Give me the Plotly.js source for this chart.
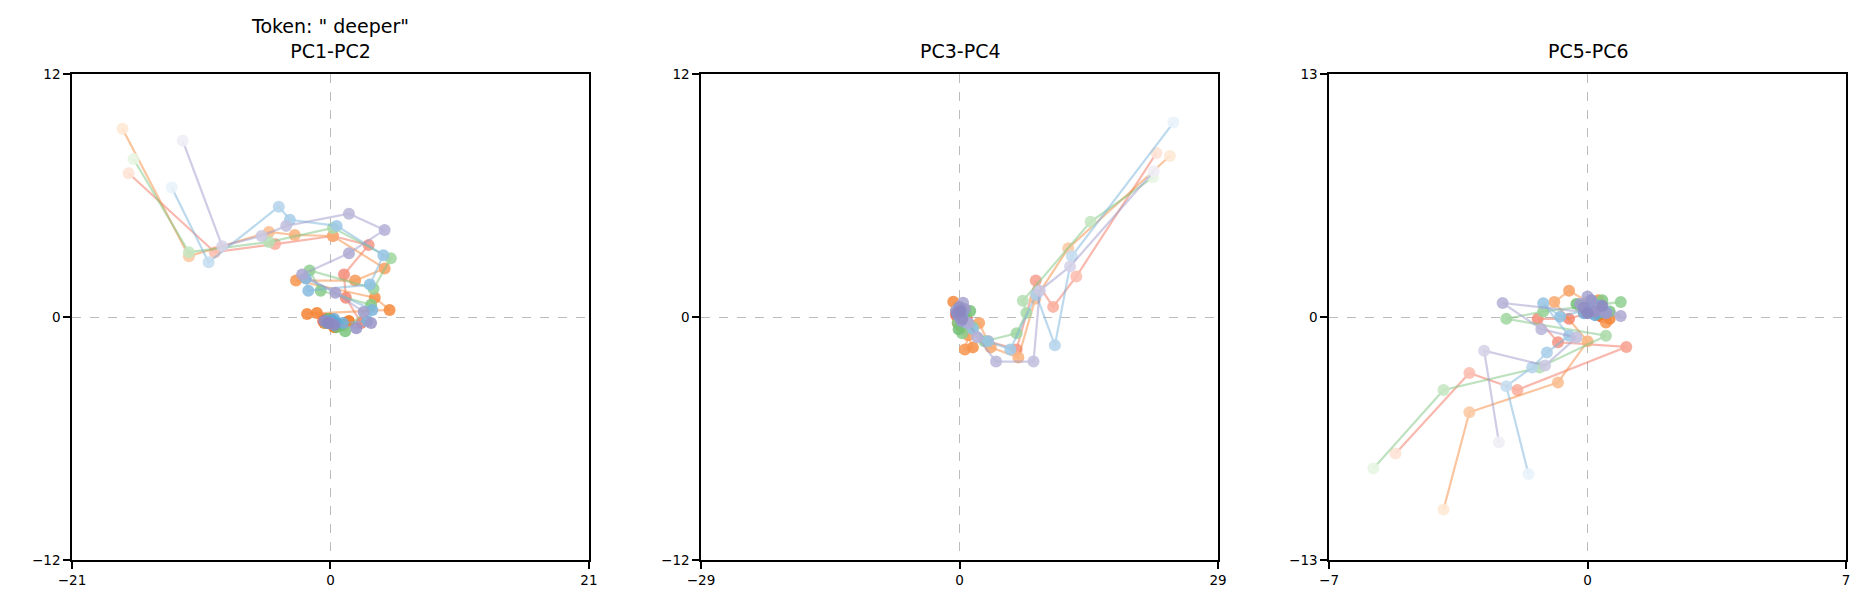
<!DOCTYPE html>
<html>
<head>
<meta charset="utf-8">
<script src="https://cdn.plot.ly/plotly-3.0.1.min.js"></script>
<style>
  body { margin: 0; background: #fff; }
  #chart { width: 1868px; height: 612px; }
</style>
</head>
<body>
<div id="chart"></div>
<script>
// trajectories of the token through the layers, one point per layer
var seriesNames = ['Reds', 'Oranges', 'Greens', 'Blues', 'Purples'];

var redPC1 = [-16.4, -9.4, -4.5, 0.2, 3.1, 1.1, 1.25, 2.5, 1.0, -0.6, 0.4, -0.2, 0.8, 0.1, -0.4, 0.2];
var redPC2 = [7.1, 3.2, 3.6, 4.0, 3.55, 2.1, 0.95, -0.3, -0.4, -0.2, -0.5, -0.3, -0.4, -0.2, -0.1, -0.3];
var redPC3 = [22.1, 13.1, 10.5, 8.55, 6.4, 3.2, 1.2, 0.5, -0.2, 0.3, 0.8, 0.0, -0.4, 0.2, 0.5, 0.1];
var redPC4 = [8.1, 2.0, 0.5, 1.8, -1.6, -1.2, -0.4, 0.2, 0.4, -0.5, -0.1, 0.3, 0.1, -0.2, 0.0, 0.2];
var redPC5 = [-5.2, -3.2, -1.9, 1.05, -0.8, -1.35, -0.5, 0.3, 0.0, 0.5, 0.2, -0.1, 0.4, 0.1, 0.3, 0.0];
var redPC6 = [-7.3, -3.0, -3.9, -1.6, -1.35, -0.1, -0.1, 0.4, 0.8, 0.1, 0.6, 0.3, 0.0, 0.5, 0.2, 0.4];

var orangePC1 = [-16.9, -11.5, -5.0, -2.9, 0.2, 4.4, 2.0, -2.8, 3.6, 4.8, -1.9, -1.1, -0.5, 0.3, 1.5, 0.0];
var orangePC2 = [9.3, 3.0, 4.2, 4.05, 4.0, 2.4, 1.8, 1.8, 0.95, 0.35, 0.15, 0.2, -0.3, -0.5, -0.2, -0.1];
var orangePC3 = [23.6, 12.2, 8.5, 6.6, 3.5, 2.2, 1.0, 0.6, 1.5, -0.7, -0.4, 0.2, 0.5, -0.2, 0.3, 0.0];
var orangePC4 = [7.95, 3.4, 0.9, -2.0, -1.5, -0.3, -0.9, -1.6, -1.5, 0.75, 0.3, -0.5, 0.1, -0.3, 0.4, 0.0];
var orangePC5 = [-3.9, -3.2, -0.8, 0.0, -0.9, -0.5, 0.2, 0.5, 0.3, -0.1, 0.6, 0.2, 0.4, 0.0, 0.3, 0.1];
var orangePC6 = [-10.3, -5.1, -3.5, -1.3, 0.8, 1.4, 0.6, -0.3, 0.9, 0.4, -0.1, 0.7, 0.2, 0.5, 0.1, 0.3];

var greenPC1 = [-16.0, -11.5, -5.0, 0.2, 4.9, 3.5, -1.7, -0.8, 3.3, 1.2, -0.3, 0.5, -0.2, 0.8, 0.2, 0.0];
var greenPC2 = [7.8, 3.2, 3.7, 4.4, 2.9, 1.4, 2.3, 1.3, 0.6, -0.7, -0.3, -0.5, -0.1, -0.4, -0.2, -0.3];
var greenPC3 = [21.7, 14.7, 7.1, 7.5, 6.4, 2.8, 1.5, 0.3, -0.2, 0.6, 1.2, -0.1, 0.4, 0.2, -0.3, 0.1];
var greenPC4 = [6.9, 4.7, 0.8, 0.2, -0.8, -1.2, -0.5, -0.8, -0.3, 0.2, 0.3, -0.6, 0.1, -0.2, 0.2, 0.0];
var greenPC5 = [-5.8, -3.9, -1.3, 0.5, -2.2, -1.2, 0.9, -0.2, 0.4, 0.6, 0.1, -0.3, 0.3, 0.2, 0.0, 0.1];
var greenPC6 = [-8.1, -3.9, -2.7, -1.0, -0.1, 0.3, 0.8, 0.6, 0.9, 0.3, 0.5, 0.7, 0.2, 0.4, 0.6, 0.3];

var bluePC1 = [-12.9, -9.9, -4.2, -3.3, 0.5, 4.3, 3.2, -1.8, -2.0, 3.4, 3.0, 1.0, 0.3, -0.3, 0.5, 0.1];
var bluePC2 = [6.4, 2.7, 5.45, 4.8, 4.5, 3.05, 1.6, 1.3, 1.9, 0.35, -0.2, -0.3, -0.1, -0.2, -0.3, -0.2];
var bluePC3 = [24.0, 12.6, 10.7, 8.6, 5.7, 3.2, 1.5, 0.8, 0.3, -0.2, 0.5, 0.1, -0.3, 0.2, 0.0, 0.3];
var bluePC4 = [9.6, 3.0, -1.4, 1.1, -1.6, -1.2, -0.6, -0.3, 0.2, 0.4, -0.2, 0.1, 0.3, -0.1, 0.0, 0.2];
var bluePC5 = [-1.6, -2.2, -1.5, -1.1, -0.5, -1.2, -0.74, 0.2, 0.5, 0.1, -0.1, 0.3, 0.0, 0.2, 0.4, 0.1];
var bluePC6 = [-8.4, -3.7, -2.7, -1.9, -1.0, 0.73, 0.02, 0.5, 0.3, 0.9, 0.2, 0.6, 0.4, 0.1, 0.3, 0.5];

var purplePC1 = [-12.0, -8.8, -5.6, -3.6, 1.5, 4.4, 1.5, -2.3, 0.4, 2.7, 3.3, 2.1, 0.0, -0.5, 0.3, -0.2];
var purplePC2 = [8.7, 3.5, 4.0, 4.5, 5.1, 4.3, 3.15, 2.1, 1.2, 0.25, -0.3, -0.55, -0.3, -0.2, -0.4, -0.3];
var purplePC3 = [21.8, 12.4, 9.0, 8.3, 4.1, 2.0, 1.0, 0.4, -0.4, 0.2, 0.6, -0.2, 0.0, 0.3, -0.3, 0.1];
var purplePC4 = [7.2, 2.5, 1.3, -2.2, -2.2, -1.0, -0.3, 0.7, 0.3, -0.2, 0.4, 0.1, 0.5, -0.1, 0.2, 0.3];
var purplePC5 = [-2.4, -2.8, -1.15, -0.3, -1.25, -2.3, 0.9, 0.0, 0.3, -0.2, 0.5, 0.1, 0.2, -0.1, 0.4, 0.0];
var purplePC6 = [-6.7, -1.8, -2.6, -1.1, -0.65, 0.75, 0.05, 1.1, 0.4, 0.7, 0.2, 0.9, 0.3, 0.5, 0.6, 0.2];

var panelTitles = ['Token: " deeper"<br>PC1-PC2', 'PC3-PC4', 'PC5-PC6'];
var xLimits = [21, 29, 7];
var yLimits = [12, 12, 13];

var series = [
  [redPC1, redPC2, redPC3, redPC4, redPC5, redPC6],
  [orangePC1, orangePC2, orangePC3, orangePC4, orangePC5, orangePC6],
  [greenPC1, greenPC2, greenPC3, greenPC4, greenPC5, greenPC6],
  [bluePC1, bluePC2, bluePC3, bluePC4, bluePC5, bluePC6],
  [purplePC1, purplePC2, purplePC3, purplePC4, purplePC5, purplePC6]
];

// pale -> saturated, like the matplotlib sequential maps
var palette = {
  Reds:    {pale: [254, 226, 214], dark: [239, 85, 62]},
  Oranges: {pale: [254, 232, 212], dark: [243, 115, 25]},
  Greens:  {pale: [231, 245, 226], dark: [98, 186, 102]},
  Blues:   {pale: [232, 241, 250], dark: [95, 165, 212]},
  Purples: {pale: [240, 238, 246], dark: [138, 134, 192]}
};

function shade(p, t, a) {
  var c = p.pale.map(function (v, k) { return Math.round(v + (p.dark[k] - v) * t); });
  return 'rgba(' + c.join(',') + ',' + a + ')';
}

var data = [];
for (var panel = 0; panel < 3; panel++) {
  var xa = panel === 0 ? 'x' : 'x' + (panel + 1);
  var ya = panel === 0 ? 'y' : 'y' + (panel + 1);
  series.forEach(function (s, si) {
    var p = palette[seriesNames[si]];
    var xs = s[panel * 2], ys = s[panel * 2 + 1];
    var n = xs.length;
    var cols = xs.map(function (_, i) {
      var t = Math.pow(i / (n - 1), 0.5);
      return shade(p, t, 0.88);
    });
    data.push({
      type: 'scatter', mode: 'lines', x: xs, y: ys, xaxis: xa, yaxis: ya,
      line: {color: shade(p, 0.8, 0.5), width: 2.2},
      hoverinfo: 'skip', showlegend: false
    });
    data.push({
      type: 'scatter', mode: 'markers', x: xs, y: ys, xaxis: xa, yaxis: ya,
      marker: {color: cols, size: 12, line: {width: 0}},
      showlegend: false
    });
  });
}

var domains = [[0, 0.2914], [0.3546, 0.6460], [0.7086, 1]];
var layout = {
  width: 1868, height: 612,
  margin: {l: 72, r: 22, t: 74, b: 52},
  paper_bgcolor: '#fff', plot_bgcolor: '#fff',
  font: {family: 'DejaVu Sans', color: '#000', size: 13.5},
  showlegend: false,
  annotations: []
};

for (var k = 0; k < 3; k++) {
  var sfx = k === 0 ? '' : String(k + 1);
  var axBase = {
    showline: true, mirror: true, linecolor: '#000', linewidth: 1.5,
    ticks: 'outside', ticklen: 7, tickwidth: 1.5, tickcolor: '#000',
    showgrid: true, gridcolor: 'rgba(160,160,160,0.7)', griddash: 'dash', gridwidth: 1,
    zeroline: false, tickfont: {family: 'DejaVu Sans', size: 13.5, color: '#000'}
  };
  layout['xaxis' + sfx] = Object.assign({}, axBase, {
    domain: domains[k], anchor: 'y' + sfx,
    range: [-xLimits[k], xLimits[k]],
    tickvals: [-xLimits[k], 0, xLimits[k]]
  });
  layout['yaxis' + sfx] = Object.assign({}, axBase, {
    domain: [0, 1], anchor: 'x' + sfx,
    range: [-yLimits[k], yLimits[k]],
    tickvals: [-yLimits[k], 0, yLimits[k]]
  });
  layout.annotations.push({
    text: panelTitles[k], showarrow: false,
    xref: 'paper', yref: 'paper',
    x: (domains[k][0] + domains[k][1]) / 2, y: 1,
    xanchor: 'center', yanchor: 'bottom', yshift: 10,
    font: {family: 'DejaVu Sans', size: 19, color: '#000'}
  });
}

Plotly.newPlot('chart', data, layout, {displayModeBar: false});
</script>
</body>
</html>
